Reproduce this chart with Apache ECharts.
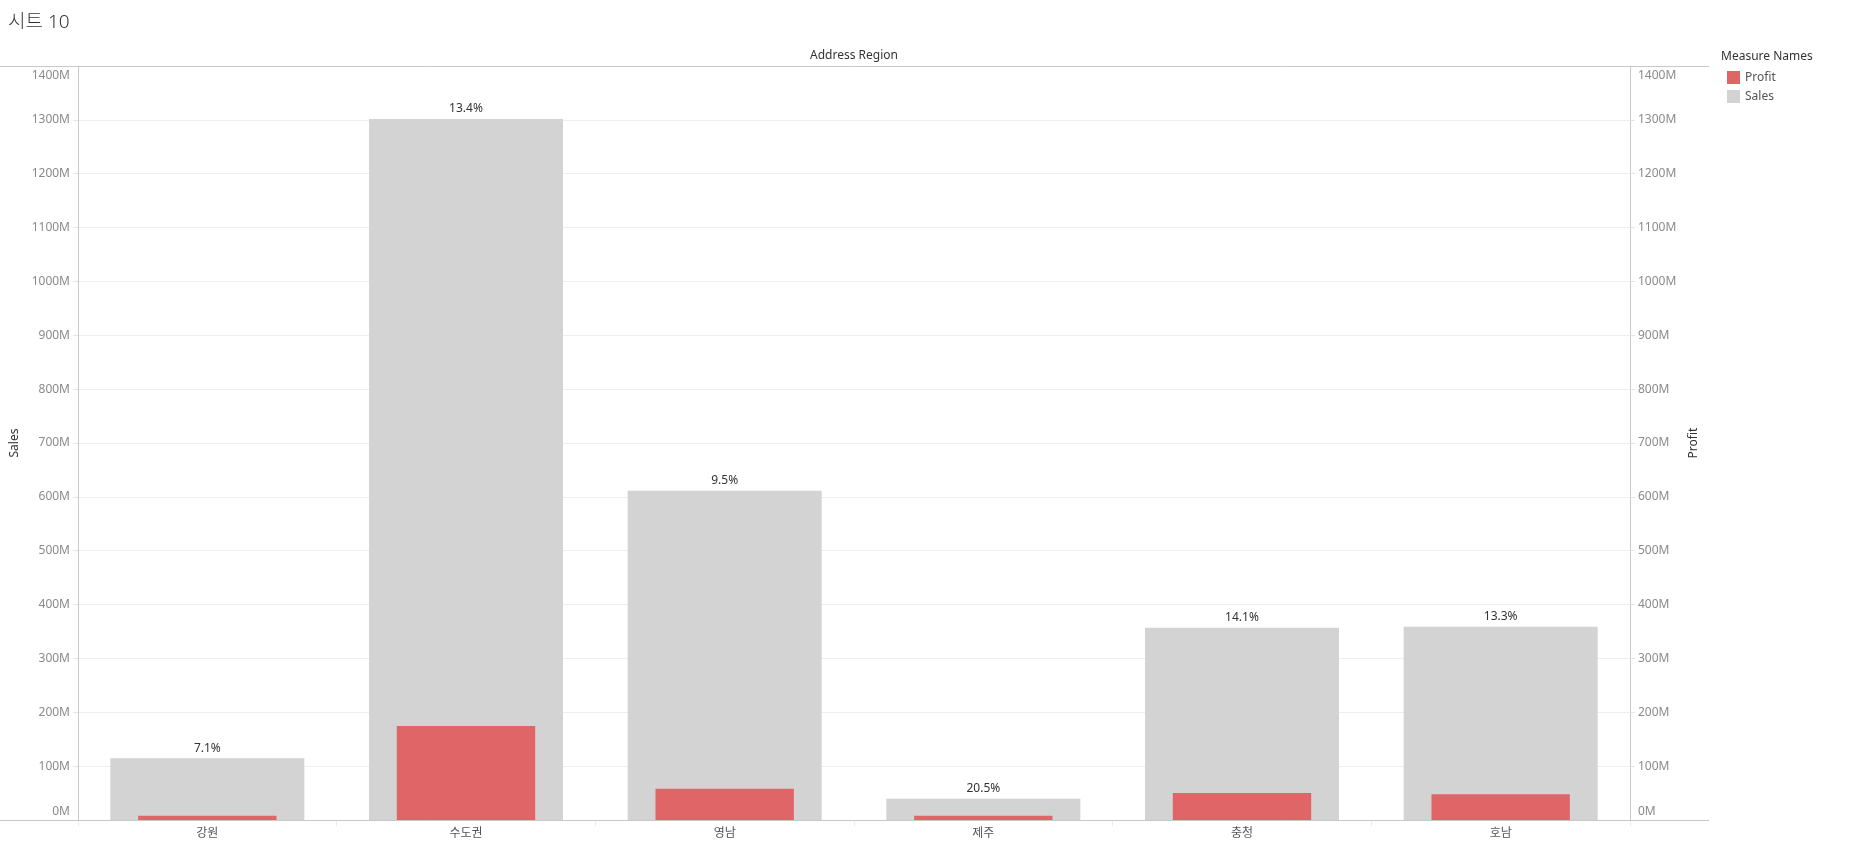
<!DOCTYPE html>
<html>
<head>
    <meta charset="utf-8">
    <title>시트 10</title>
    <script src="https://cdn.jsdelivr.net/npm/echarts@6/dist/echarts.min.js"></script>
    <style>
        html, body {
            margin: 0;
            padding: 0;
            background: #ffffff;
        }

        #chart {
            width: 1860px;
            height: 843px;
        }
    </style>
</head>
<body>
<div id="chart"></div>
<script>
    // 지역별 매출 / 이익 (단위: M)
    var regions = ['강원', '수도권', '영남', '제주', '충청', '호남'];
    var salesM = [114.7, 1301.8, 611.5, 39.3, 357.0, 359.0];
    var profitM = [8.1, 174.5, 58.0, 8.1, 50.3, 47.8];
    var ratioLabels = ['7.1%', '13.4%', '9.5%', '20.5%', '14.1%', '13.3%'];

    var FONT = "'Noto Sans', 'Noto Sans CJK KR', sans-serif";
    var SALES_COLOR = '#d3d3d3';
    var PROFIT_COLOR = '#e06567';
    var LINE_COLOR = '#c8c8c8';
    var AXIS_MAX = 1400;

    var chart = echarts.init(document.getElementById('chart'));

    // 축 공통 설정 (맨 위/맨 아래 라벨은 안쪽으로 밀어 넣음)
    function valueAxis(name, position, showGrid) {
        return {
            type: 'value',
            name: name,
            position: position,
            min: 0,
            max: AXIS_MAX,
            interval: 100,
            nameLocation: 'middle',
            nameRotate: 90,
            nameGap: position === 'left' ? 56 : 58,
            nameTextStyle: {color: '#333', fontSize: 12, fontFamily: FONT},
            axisLine: {show: true, lineStyle: {color: LINE_COLOR, width: 1}},
            axisTick: {show: true, length: 5, lineStyle: {color: '#e4e4e4'}},
            axisLabel: {
                color: '#8a8a8a',
                fontSize: 12,
                fontFamily: FONT,
                margin: 8,
                formatter: function (v) {
                    if (v === AXIS_MAX) return '{top|' + v + 'M}';
                    if (v === 0) return '{bot|' + v + 'M}';
                    return v + 'M';
                },
                rich: {
                    top: {color: '#8a8a8a', fontSize: 12, fontFamily: FONT, padding: [20, 0, 0, 0]},
                    bot: {color: '#8a8a8a', fontSize: 12, fontFamily: FONT, padding: [0, 0, 16, 0]}
                }
            },
            splitLine: {show: showGrid, lineStyle: {color: '#eeeeee', width: 1}}
        };
    }

    var option = {
        animation: false,
        backgroundColor: '#ffffff',
        textStyle: {fontFamily: FONT},
        title: {
            text: '시트 10',
            left: 3,
            top: 8,
            textStyle: {color: '#333', fontSize: 19, fontWeight: 300, fontFamily: FONT}
        },
        legend: {
            data: ['Profit', 'Sales'],
            orient: 'vertical',
            left: 1722,
            top: 66,
            icon: 'rect',
            itemWidth: 13,
            itemHeight: 13,
            itemGap: 6,
            textStyle: {color: '#555', fontSize: 12, fontFamily: FONT}
        },
        grid: {
            left: 78,
            right: 230,
            top: 66,
            bottom: 23,
            containLabel: false
        },
        graphic: [
            {
                type: 'text',
                left: 1721,
                top: 51,
                style: {text: 'Measure Names', fill: '#333', fontSize: 12, fontFamily: FONT}
            },
            {
                type: 'text',
                x: 854,
                y: 56,
                style: {
                    text: 'Address Region', fill: '#333', fontSize: 12, fontFamily: FONT,
                    align: 'center', verticalAlign: 'middle'
                }
            },
            {
                type: 'line',
                shape: {x1: 0, y1: 66.5, x2: 1709, y2: 66.5},
                style: {stroke: LINE_COLOR, lineWidth: 1},
                z: 10
            },
            {
                type: 'line',
                shape: {x1: 0, y1: 820.5, x2: 1709, y2: 820.5},
                style: {stroke: LINE_COLOR, lineWidth: 1},
                z: 10
            }
        ],
        xAxis: [
            {
                type: 'category',
                data: regions,
                axisLine: {show: false},
                axisTick: {show: true, length: 6, lineStyle: {color: '#ececec'}},
                axisLabel: {color: '#555', fontSize: 12, fontFamily: FONT, margin: 8}
            },
            {
                type: 'category',
                data: regions,
                show: false
            }
        ],
        yAxis: [
            valueAxis('Sales', 'left', true),
            valueAxis('Profit', 'right', false)
        ],
        series: [
            {
                name: 'Sales',
                type: 'bar',
                xAxisIndex: 0,
                yAxisIndex: 0,
                barWidth: '75%',
                itemStyle: {color: SALES_COLOR},
                label: {
                    show: true,
                    position: 'top',
                    distance: 4,
                    color: '#333',
                    fontSize: 12,
                    fontFamily: FONT,
                    formatter: function (p) {
                        return ratioLabels[p.dataIndex];
                    }
                },
                data: salesM
            },
            {
                name: 'Profit',
                type: 'bar',
                xAxisIndex: 1,
                yAxisIndex: 1,
                barWidth: '53.5%',
                itemStyle: {color: PROFIT_COLOR},
                data: profitM
            }
        ]
    };
    chart.setOption(option);
</script>
</body>
</html>
